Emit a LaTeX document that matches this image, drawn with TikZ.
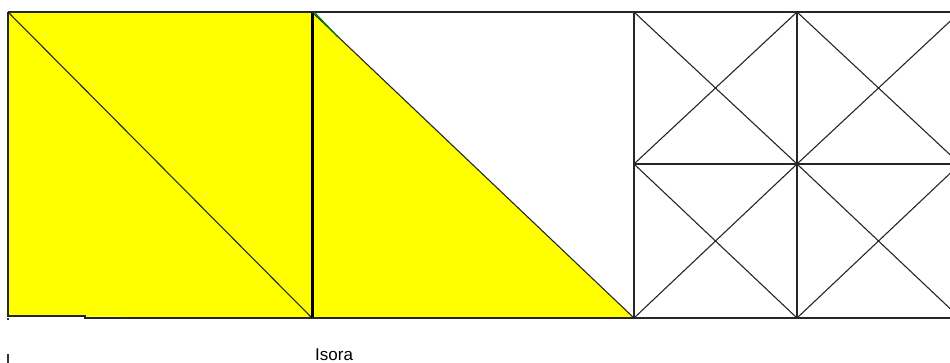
\documentclass[tikz,border=0pt]{standalone}
\usepackage{fontspec}
\setmainfont{Liberation Sans}
\definecolor{pureyellow}{RGB}{255,255,0}
\begin{document}
\begin{tikzpicture}[x=1pt,y=-1pt,
  edge/.style={draw=black!85,line width=1.1pt},
  thick edge/.style={draw=black,line width=3pt},
  fillyel/.style={fill=pureyellow,draw=none}]
\useasboundingbox (0,0) rectangle (950,363);
\clip (0,0) rectangle (950,363);
% coordinates
\coordinate (A) at (8,12);
\coordinate (B) at (312,12);
\coordinate (C) at (312,318);
\coordinate (D) at (8,316);
\coordinate (T) at (634,318);
\coordinate (G1) at (634,12);
\coordinate (G2) at (797,12);
\coordinate (G3) at (960,12);
\coordinate (M1) at (634,164);
\coordinate (M2) at (797,164);
\coordinate (M3) at (960,164);
\coordinate (L2) at (797,318);
\coordinate (L3) at (960,318);
% yellow areas
\fill[fillyel] (A) -- (B) -- (C) -- (D) -- cycle;
\fill[fillyel] (B) -- (C) -- (T) -- cycle;
% left square
\draw[edge] (A) -- (D) -- (85,316) -- (85,318) -- (C);
\draw[edge] (A) -- (C);
\draw[thick edge] (B) -- (C);
% triangle hypotenuse
\draw[edge] (B) -- (T);
\draw[draw=green!50!black,line width=1.2pt] (315,13) -- (338,37);
% top and bottom lines
\draw[edge] (A) -- (G3);
\draw[edge] (C) -- (L3);
% grid
\draw[edge] (G1) -- (T);
\draw[edge] (G2) -- (L2);
\draw[edge] (M1) -- (M3);
\draw[edge] (G1) -- (M2) (G2) -- (M1);
\draw[edge] (G2) -- (M3) (G3) -- (M2);
\draw[edge] (M1) -- (L2) (M2) -- (T);
\draw[edge] (M2) -- (L3) (M3) -- (L2);
% small marks
\fill[black!80] (7,318) rectangle (9,320);
\draw[line width=1.5pt,black!80] (8,354) -- (8,363);
% label
\node[anchor=base west,inner sep=0pt,font=\fontsize{17}{17}\selectfont] (lbl) at (315,360) {Isora};
\end{tikzpicture}
\end{document}
